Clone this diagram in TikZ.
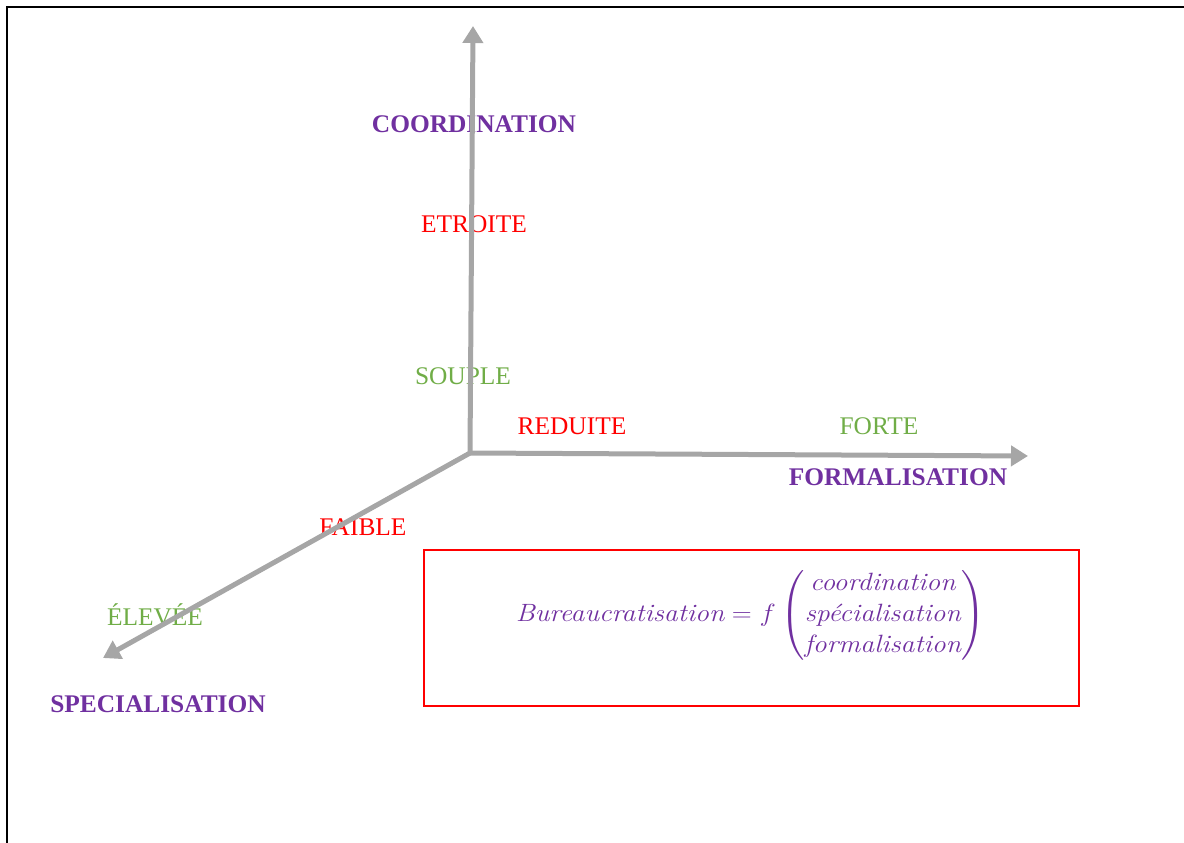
\documentclass[tikz,border=0pt]{standalone}
\usepackage{amsmath}
\usepackage{graphicx}
\usepackage{fontspec}
\usetikzlibrary{arrows.meta}
\newfontfamily\labelfont{Liberation Serif}
\definecolor{axisgray}{HTML}{A6A6A6}
\definecolor{titlepurple}{HTML}{7030A0}
\definecolor{lowred}{HTML}{FF0000}
\definecolor{highgreen}{HTML}{70AD47}
\begin{document}
\begin{tikzpicture}[x=1pt,y=-1pt,
  axis/.style={draw=axisgray,line width=5pt,-{Triangle[length=17pt,width=20pt]}},
  axistitle/.style={font=\labelfont\fontsize{25.4}{30}\selectfont\bfseries,text=titlepurple,inner sep=0pt},
  lowlabel/.style={font=\labelfont\fontsize{25.4}{30}\selectfont,text=lowred,inner sep=0pt},
  highlabel/.style={font=\labelfont\fontsize{25.4}{30}\selectfont,text=highgreen,inner sep=0pt},
  formulabox/.style={draw=lowred,line width=1.3pt,minimum width=655pt,minimum height=156pt,inner sep=0pt}]
\useasboundingbox (0,0) rectangle (1184,843);
\clip (0,0) rectangle (1184,843);
% page frame
\draw[line width=2.6pt,black] (7,900) -- (7,7) -- (1250,7);

% axis end points
\coordinate (O) at (470,453);
\coordinate (Ytip) at (473,26);
\coordinate (Xtip) at (1028,456);
\coordinate (Ztip) at (103,658);

% axis titles
\node[axistitle] (coord) at (474,124) {COORDINATION};
\node[axistitle] (form) at (898,477) {FORMALISATION};
\node[axistitle] (spec) at (158,704) {SPECIALISATION};

% graduations
\node[lowlabel] (etroite) at (474,224) {ETROITE};
\node[highlabel] (souple) at (463,376) {SOUPLE};
\node[lowlabel] (reduite) at (572,426) {REDUITE};
\node[highlabel] (forte) at (879,426) {FORTE};
\node[lowlabel] (faible) at (363,527) {FAIBLE};
\node[highlabel,anchor=base] (elevee) at (155,625) {ÉLEVÉE};

% axes, drawn over the labels
\draw[axis] (O) -- (Ytip);
\draw[axis] (O) -- (Xtip);
\draw[axis] (O) -- (Ztip);

% formula
\node[formulabox] (box) at (751.5,628) {};
\node[text=titlepurple,font=\fontsize{25}{31}\selectfont] (formula) at (750.5,615)
  {\scalebox{1.11}[1]{$\textit{Bureaucratisation} = f\begin{pmatrix}\textit{coordination}\\ \textit{spécialisation}\\ \textit{formalisation}\end{pmatrix}$}};
\end{tikzpicture}
\end{document}
